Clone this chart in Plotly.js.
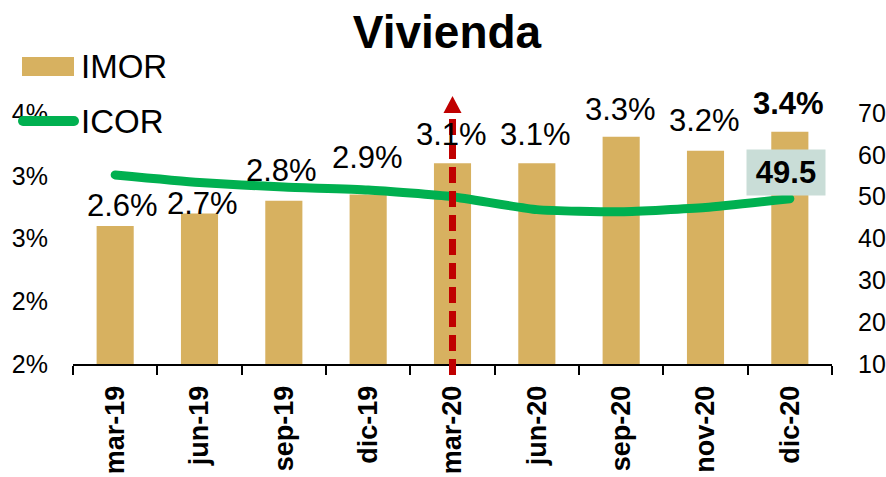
<!DOCTYPE html>
<html>
<head>
<meta charset="utf-8">
<script src="https://cdn.plot.ly/plotly-3.0.1.min.js"></script>
<style>
html,body{margin:0;padding:0;background:#fff;}
#chart{width:886px;height:477px;}
.scatterlayer .js-line{stroke-linecap:round;stroke-linejoin:round;}
.shapelayer path[data-index="2"]{stroke-linecap:round;}
</style>
</head>
<body>
<div id="chart"></div>
<script>
// ---- data ----
const categories = ["mar-19","jun-19","sep-19","dic-19","mar-20","jun-20","sep-20","nov-20","dic-20"];
const imor = [2.6, 2.7, 2.8, 2.85, 3.1, 3.1, 3.31, 3.2, 3.35];
const imorLabels = ["2.6%","2.7%","2.8%","2.9%","3.1%","3.1%","3.3%","3.2%","3.4%"];
const icor = [55.2, 53.4, 52.3, 51.6, 50.0, 46.9, 46.4, 47.4, 49.5];
const icorLastLabel = "49.5";
const leftTickVals = [1.5, 2.0, 2.5, 3.0, 3.5];
const leftTickText = ["2%","2%","3%","3%","4%"];
const rightTickVals = [10, 20, 30, 40, 50, 60, 70];
const markerCategory = "mar-20";

// ---- layout helpers (pixel geometry of plot area) ----
const L = 73, R = 832, T = 113, B = 364;
const px = x => (x - L) / (R - L);
const py = y => (B - y) / (B - T);
const FONT = "Liberation Sans, Arial, sans-serif";
const GOLD = "#d7b160";
const GREEN = "#00b050";

// per-label placement tweaks (style, not data)
const lblY = [20, 10, 30, 37, 29, 29, 27, 30, 28];
const lblX = [7, 3, -2, -1, -1, -1, -1, -1, -1];

const traces = [
  {
    type: "bar", x: categories, y: imor, name: "IMOR",
    marker: {color: GOLD}, yaxis: "y", showlegend: false,
    hoverinfo: "skip"
  },
  {
    type: "scatter", mode: "lines", x: categories, y: icor, name: "ICOR",
    yaxis: "y2", line: {color: GREEN, width: 9, shape: "spline", smoothing: 0.5},
    showlegend: false, hoverinfo: "skip", cliponaxis: false
  }
];

const annotations = imor.map((v, i) => ({
  x: categories[i], y: v, xref: "x", yref: "y",
  text: imorLabels[i], showarrow: false,
  xanchor: "center", yanchor: "middle",
  xshift: lblX[i], yshift: lblY[i],
  font: {family: FONT, size: 31, color: "#000", weight: i === imor.length - 1 ? "bold" : "normal"}
}));

const lastIdx = icor.length - 1;
annotations.push({
  x: categories[lastIdx], y: icor[lastIdx], xref: "x", yref: "y2",
  text: icorLastLabel, showarrow: false, xanchor: "center", yanchor: "middle",
  xshift: -4, yshift: 26, bgcolor: "#c9ddd7", borderpad: 3, width: 72, height: 39,
  font: {family: FONT, size: 31, color: "#000", weight: "bold"}
});

// manual legend texts
annotations.push({
  xref: "paper", yref: "paper", x: px(79), y: py(67), xanchor: "left", yanchor: "middle",
  text: "IMOR", showarrow: false, font: {family: FONT, size: 33, color: "#000"}
});
annotations.push({
  xref: "paper", yref: "paper", x: px(79), y: py(121), xanchor: "left", yanchor: "middle",
  text: "ICOR", showarrow: false, font: {family: FONT, size: 33, color: "#000"}
});

const mIdx = categories.indexOf(markerCategory);
const shapes = [
  // dashed red marker line
  {type: "line", xref: "x", yref: "paper", x0: mIdx, x1: mIdx, y0: py(375), y1: py(112),
   line: {color: "#c00000", width: 7, dash: "16px,8px"}, layer: "above"},
  // arrowhead
  {type: "path", xref: "x", yref: "paper", xsizemode: "pixel", ysizemode: "pixel",
   xanchor: mIdx, yanchor: py(113), path: "M-9,0 L9,0 L0,17 Z",
   fillcolor: "#c00000", line: {width: 0}, layer: "above"},
  // legend: ICOR line swatch
  {type: "line", xref: "paper", yref: "paper", x0: px(23), x1: px(74), y0: py(121), y1: py(121),
   line: {color: GREEN, width: 10}, layer: "above"},
  // legend: IMOR bar swatch
  {type: "rect", xref: "paper", yref: "paper", x0: px(22), x1: px(74), y0: py(76), y1: py(57),
   fillcolor: GOLD, line: {width: 0}, layer: "above"}
];

const layout = {
  width: 886, height: 477,
  margin: {l: L, r: 886 - R, t: T, b: 477 - B, pad: 0},
  paper_bgcolor: "#fff", plot_bgcolor: "#fff",
  font: {family: FONT, color: "#000"},
  title: {
    text: "Vivienda", x: 447 / 886, y: 1 - 32 / 477, xref: "container", yref: "container",
    xanchor: "center", yanchor: "middle",
    font: {family: FONT, size: 46, color: "#000", weight: "bold"}
  },
  showlegend: false,
  bargap: 0.56,
  xaxis: {
    type: "category", showline: true, linecolor: "#000", linewidth: 2,
    ticks: "outside", tickson: "boundaries", ticklen: 9, tickwidth: 2, tickcolor: "#000",
    tickangle: -90, ticklabelstandoff: 9,
    tickfont: {family: FONT, size: 27, color: "#000", weight: "bold"},
    showgrid: false, zeroline: false, fixedrange: true
  },
  yaxis: {
    range: [1.5, 3.5], tickvals: leftTickVals, ticktext: leftTickText,
    showline: false, ticks: "", showgrid: false, zeroline: false,
    ticklabelstandoff: 24,
    tickfont: {family: FONT, size: 25, color: "#000"}, fixedrange: true
  },
  yaxis2: {
    range: [10, 70], tickvals: rightTickVals, overlaying: "y", side: "right",
    showline: false, ticks: "", showgrid: false, zeroline: false,
    ticklabelstandoff: 25,
    tickfont: {family: FONT, size: 25, color: "#000"}, fixedrange: true
  },
  annotations: annotations,
  shapes: shapes
};

Plotly.newPlot("chart", traces, layout, {staticPlot: true, displayModeBar: false});
</script>
</body>
</html>
